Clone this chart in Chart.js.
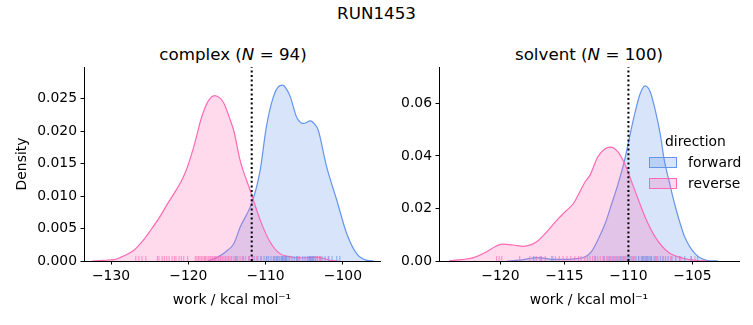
<!DOCTYPE html>
<html>
<head>
<meta charset="utf-8">
<script src="https://cdn.jsdelivr.net/npm/chart.js@4.4.0/dist/chart.umd.min.js"></script>
<style>
body{margin:0;background:#fff;font-family:"DejaVu Sans",sans-serif;color:#000}
#wrap{position:relative;width:753px;height:325px;overflow:hidden}
canvas{position:absolute;top:0}
.ttl{position:absolute;font-size:16.7px;line-height:20px;white-space:nowrap;transform:translateX(-50%)}
.lg{position:absolute;font-size:13.9px;line-height:16px;white-space:nowrap}
.box{position:absolute;width:26px;height:9.5px;border:1px solid}
</style>
</head>
<body>
<div id="wrap">
  <div class="ttl" style="left:376.5px;top:3px">RUN1453</div>
  <div class="ttl" id="t1" style="left:233px;top:44px"></div>
  <div class="ttl" id="t2" style="left:589px;top:44px"></div>
  <canvas id="c1" width="390" height="325" style="left:0"></canvas>
  <canvas id="c2" width="363" height="325" style="left:390px"></canvas>
  <div id="legend"></div>
</div>
<script>
// directions (legend)
const directions = ['forward', 'reverse'];

// subplot names and sample counts
const legs = ['complex', 'solvent'];
const counts = [94, 100];

// complex leg : kde
const complexFwdX = [-117.5,-116.2,-115.2,-114.1,-113.3,-112.0,-111.3,-110.7,-109.9,-109.0,-108.4,-107.8,-107.3,-106.8,-106.0,-105.1,-104.2,-103.6,-103.2,-102.1,-100.8,-99.5,-98.2,-96.9,-96.0];
const complexFwdD = [0,0.0006,0.0014,0.0027,0.0052,0.0083,0.0108,0.0140,0.0207,0.0253,0.0268,0.0271,0.0265,0.0253,0.0222,0.0212,0.0216,0.0210,0.0202,0.0145,0.0094,0.0042,0.0011,0.0001,0];
const complexRevX = [-132.5,-131,-129.6,-128.3,-127.0,-125.9,-124.9,-123.8,-122.7,-121.8,-121.0,-120.3,-119.7,-119.0,-118.4,-117.5,-116.6,-115.9,-115.4,-114.6,-114.1,-113.3,-112.0,-110.7,-109.4,-108.1,-107.0,-106.0,-104.8,-103.4,-102.5,-101.7,-100.5];
const complexRevD = [0,0.0001,0.0002,0.0008,0.0017,0.0031,0.0047,0.0066,0.0088,0.0105,0.0121,0.0139,0.0160,0.0189,0.0217,0.0245,0.0255,0.0251,0.0243,0.0218,0.0200,0.0155,0.0109,0.0063,0.0029,0.0011,0.0007,0.0005,0.0005,0.0006,0.0004,0.0001,0];

// solvent leg
const solventFwdX = [-119.5,-118.5,-117.8,-117.2,-116.5,-115.9,-115.0,-114.3,-113.4,-112.9,-112.4,-111.8,-111.3,-110.8,-110.3,-109.9,-109.5,-109.1,-108.7,-108.3,-107.9,-107.5,-107.2,-106.8,-106.4,-106.0,-105.6,-104.8,-103.8,-103.0];
const solventFwdD = [0,0.0003,0.0009,0.0013,0.0010,0.0006,0.0006,0.0008,0.0015,0.0035,0.0079,0.0145,0.0219,0.0295,0.0384,0.0475,0.0562,0.0635,0.0667,0.0645,0.0574,0.0480,0.0384,0.0300,0.0219,0.0150,0.0091,0.0028,0.0002,0];
const solventRevX = [-124.0,-123.0,-122.1,-121.1,-120.4,-119.8,-119.0,-118.2,-117.2,-116.4,-115.6,-115.0,-114.3,-113.4,-113.0,-112.4,-111.9,-111.4,-110.8,-110.3,-109.5,-108.7,-107.9,-106.9,-105.6,-104.6,-103.8];
const solventRevD = [0.0001,0.0005,0.0013,0.0034,0.0055,0.0064,0.0061,0.0056,0.0072,0.0110,0.0155,0.0185,0.0219,0.0300,0.0327,0.0396,0.0425,0.0434,0.0415,0.0371,0.0269,0.0168,0.0091,0.0034,0.0009,0.0002,0];

// rug (single work values)
const complexFwdRug = [-113.8,-112.9,-112.1,-111.5,-111.0,-110.6,-110.2,-109.9,-109.6,-109.3,-109.0,-108.8,-108.6,-108.5,-108.4,-108.2,-108.0,-107.9,-107.8,-107.7,-107.5,-107.4,-107.3,-107.1,-106.9,-106.6,-106.3,-106.0,-105.9,-105.6,-105.2,-104.9,-104.6,-104.4,-104.3,-104.2,-104.0,-103.9,-103.8,-103.6,-103.3,-103.0,-102.7,-102.3,-101.9,-101.4,-100.8,-100.4];
const complexRevRug = [-126.8,-126.4,-126.0,-125.5,-124.0,-123.8,-123.4,-123.1,-122.8,-122.5,-122.1,-121.8,-121.6,-121.2,-120.9,-120.6,-120.1,-119.1,-118.9,-118.7,-118.5,-118.3,-118.1,-117.9,-117.8,-117.6,-117.4,-117.2,-117.1,-116.9,-116.8,-116.6,-116.5,-116.3,-116.1,-115.9,-115.8,-115.6,-115.4,-115.2,-115.0,-114.8,-114.6,-114.4,-114.1,-113.9,-113.6,-113.3,-113.0,-112.6,-112.2,-111.7,-111.2,-110.6,-109.8,-108.9,-107.5,-105.8,-104.1,-103.5,-102.9,-101.8];
const solventFwdRug = [-117.4,-116.8,-115.9,-112.6,-111.9,-111.5,-111.2,-110.9,-110.6,-110.4,-110.2,-110.0,-109.8,-109.6,-109.4,-109.2,-109.0,-108.9,-108.8,-108.7,-108.6,-108.5,-108.4,-108.3,-108.2,-108.0,-107.9,-107.7,-107.5,-107.3,-107.1,-106.9,-106.6,-106.3,-106.0,-105.6,-105.1,-104.6];
const solventRevRug = [-120.3,-120.1,-119.9,-118.5,-117.7,-117.2,-116.9,-116.5,-116.0,-115.7,-115.4,-115.1,-114.8,-114.5,-114.2,-113.9,-113.7,-113.4,-113.2,-113.0,-112.8,-112.6,-112.4,-112.2,-112.0,-111.9,-111.7,-111.6,-111.4,-111.3,-111.1,-111.0,-110.8,-110.7,-110.5,-110.3,-110.1,-109.9,-109.7,-109.5,-109.2,-108.9,-108.6,-108.2,-107.8,-107.3,-106.7,-105.9,-105.1,-104.8];

// dotted lines
const complexMark = -111.8;
const solventMark = -110.0;

// ticks
const complexXTicks = [-130,-120,-110,-100];
const complexYTicks = [0,0.005,0.010,0.015,0.020,0.025];
const solventXTicks = [-120,-115,-110,-105];
const solventYTicks = [0,0.02,0.04,0.06];

const FWD = '#6495ED', REV = '#FF69B4';
function rgba(hex, a){
  const n = parseInt(hex.slice(1),16);
  return 'rgba('+(n>>16)+','+((n>>8)&255)+','+(n&255)+','+a+')';
}
const minus = v => (v < 0 ? '\u2212' + Math.abs(v) : '' + v);

Chart.defaults.font.family = 'DejaVu Sans';
Chart.defaults.font.size = 13.9;
Chart.defaults.color = '#000';

function kde(xs, ds, col){
  return {
    type:'line', data: xs.map((x,i)=>({x:x, y:ds[i]})),
    borderColor: col, backgroundColor: rgba(col,0.25), borderWidth: 1.2,
    fill:'origin', pointRadius:0, cubicInterpolationMode:'monotone'
  };
}
function rug(vals, col, yMax){
  return {
    type:'scatter', data: vals.map(v=>({x:v, y:yMax*0.0125})),
    pointStyle:'line', rotation:90, radius:2.5, borderWidth:1.2,
    borderColor: rgba(col,0.6), backgroundColor: rgba(col,0.6)
  };
}

function makeChart(id, o){
  const ds = [
    { type:'line', data:[{x:o.mark,y:0},{x:o.mark,y:o.yMax}], borderColor:'#000',
      borderWidth:2, borderDash:[2,2.6], pointRadius:0, fill:false },
    rug(o.fwdRug, FWD, o.yMax),
    rug(o.revRug, REV, o.yMax),
    kde(o.revX, o.revD, REV),
    kde(o.fwdX, o.fwdD, FWD)
  ];
  return new Chart(document.getElementById(id), {
    type:'line',
    data:{ datasets: ds },
    options:{
      responsive:false, animation:false, events:[],
      layout:{ padding:{ left:0, right:o.padRight, top:67, bottom:0 } },
      plugins:{ legend:{display:false}, tooltip:{enabled:false} },
      scales:{
        x:{
          type:'linear', min:o.xMin, max:o.xMax,
          afterBuildTicks: s => { s.ticks = o.xTicks.map(v=>({value:v})); },
          afterFit: s => { s.height = 64; },
          ticks:{ padding:4, maxRotation:0, autoSkip:false, callback: v => minus(v) },
          grid:{ drawOnChartArea:false, drawTicks:true, tickLength:3.5, color:'#000', lineWidth:1 },
          border:{ display:true, color:'#000', width:1 },
          title:{ display:true, text:'work / kcal mol\u207B\u00B9', font:{size:13.9}, padding:{top:0,bottom:16.7} }
        },
        y:{
          type:'linear', min:0, max:o.yMax,
          afterBuildTicks: s => { s.ticks = o.yTicks.map(v=>({value:v})); },
          afterFit: s => { s.width = o.yWidth; },
          ticks:{ padding:3.5, callback: v => v.toFixed(o.dec) },
          grid:{ drawOnChartArea:false, drawTicks:true, tickLength:3.5, color:'#000', lineWidth:1 },
          border:{ display:true, color:'#000', width:1 },
          title:{ display:o.yTitle, text:'Density', font:{size:13.9}, padding:{top:13.7,bottom:0} }
        }
      }
    }
  });
}

makeChart('c1', {
  fwdX:complexFwdX, fwdD:complexFwdD, revX:complexRevX, revD:complexRevD,
  fwdRug:complexFwdRug, revRug:complexRevRug, mark:complexMark,
  xTicks:complexXTicks, yTicks:complexYTicks, xMin:-133.5, xMax:-95.2, yMax:0.0299,
  dec:3, yWidth:84, padRight:10, yTitle:true
});
makeChart('c2', {
  fwdX:solventFwdX, fwdD:solventFwdD, revX:solventRevX, revD:solventRevD,
  fwdRug:solventFwdRug, revRug:solventRevRug, mark:solventMark,
  xTicks:solventXTicks, yTicks:solventYTicks, xMin:-124.8, xMax:-101.36, yMax:0.0739,
  dec:2, yWidth:49, padRight:14, yTitle:false
});

// subplot titles
document.getElementById('t1').innerHTML = legs[0] + ' (<i>N</i> = ' + counts[0] + ')';
document.getElementById('t2').innerHTML = legs[1] + ' (<i>N</i> = ' + counts[1] + ')';

// legend
let lg = '<div class="lg" style="left:665px;top:133px">direction</div>';
[FWD, REV].forEach((c,i)=>{
  const top = 156.5 + i*21;
  lg += '<div class="box" style="left:649px;top:'+top+'px;border-color:'+c+';background:'+rgba(c,0.25)+'"></div>';
  lg += '<div class="lg" style="left:688px;top:'+(top-3)+'px">'+directions[i]+'</div>';
});
document.getElementById('legend').innerHTML = lg;
</script>
</body>
</html>
